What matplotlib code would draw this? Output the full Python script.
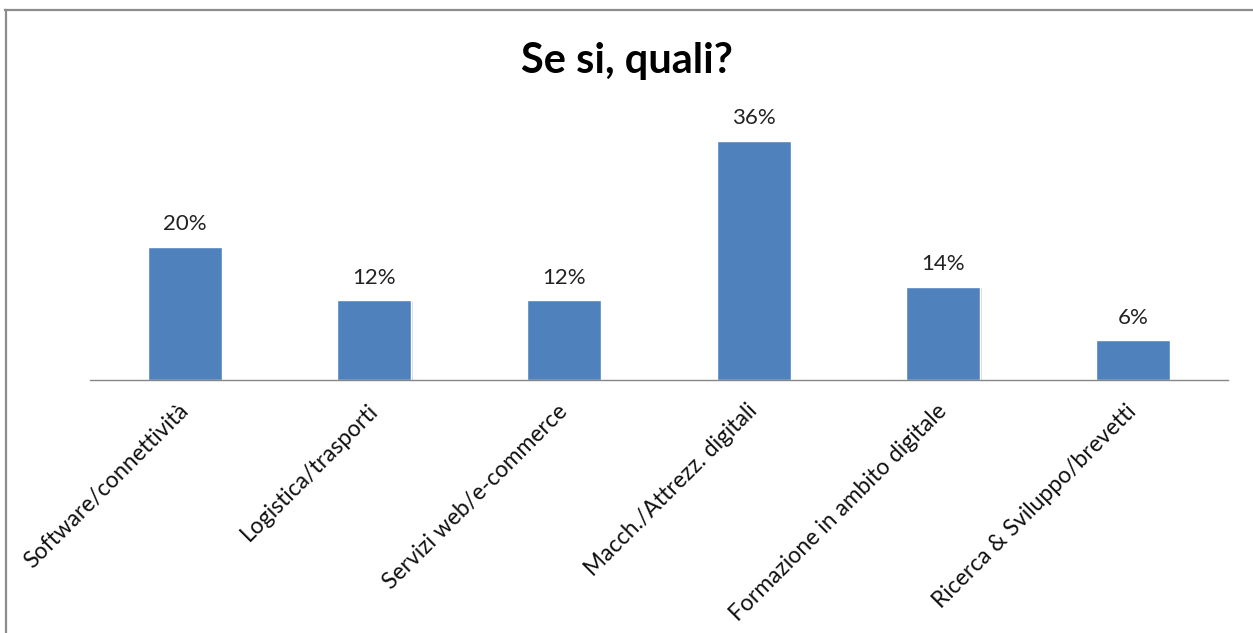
import matplotlib
matplotlib.use('Agg')
import matplotlib.pyplot as plt
import matplotlib.patheffects as pe
from matplotlib.lines import Line2D

categories = ['Software/connettività', 'Logistica/trasporti', 'Servizi web/e-commerce',
              'Macch./Attrezz. digitali', 'Formazione in ambito digitale',
              'Ricerca & Sviluppo/brevetti']
values = [20, 12, 12, 36, 14, 6]
labels = ['20%', '12%', '12%', '36%', '14%', '6%']

plt.rcParams['font.family'] = ['Lato', 'DejaVu Sans']

fig = plt.figure(figsize=(12.53, 6.33), dpi=100)
ax = fig.add_axes([0.0718, 0.3997, 0.9082, 0.4203])

x = range(len(categories))
bars = ax.bar(x, values, width=0.39, color='#4F81BD', edgecolor='white', linewidth=1,
              path_effects=[pe.SimplePatchShadow(offset=(1, -1), shadow_rgbFace='#bbbbbb', alpha=0.6),
                            pe.Normal()])

for b, lab in zip(bars, labels):
    ax.annotate(lab, (b.get_x() + b.get_width() / 2, b.get_height()),
                xytext=(0, 9), textcoords='offset points',
                ha='center', va='bottom', fontsize=16, color='#222222')

ax.set_xlim(-0.5, len(categories) - 0.5)
ax.set_ylim(0, 40)
ax.set_yticks([])
for s in ['top', 'right', 'left']:
    ax.spines[s].set_visible(False)
ax.spines['bottom'].set_color('#868686')
ax.spines['bottom'].set_linewidth(1)

ax.set_xticks(list(x))
ax.set_xticklabels(categories, rotation=45, ha='right', va='center',
                   rotation_mode='anchor', fontsize=16.5, color='#111111')
ax.tick_params(axis='x', length=0, pad=20)

fig.text(0.5, 0.903, 'Se si, quali?', ha='center', va='center',
         fontsize=30, fontweight='bold')

# outer frame (top and left edges visible)
top = 1 - 10 / 633
fig.add_artist(Line2D([5 / 1253, 1], [top, top], color='#8c8c8c', lw=1.6,
                      transform=fig.transFigure))
fig.add_artist(Line2D([6 / 1253, 6 / 1253], [0, top], color='#8c8c8c', lw=1.6,
                      transform=fig.transFigure))

fig.savefig('out.png', dpi=100, facecolor='white')
